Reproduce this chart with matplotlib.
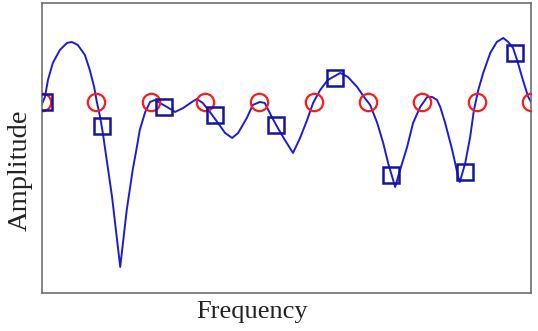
"""Amplitude vs frequency sketch: sampled curve with two marker sets."""

import matplotlib
matplotlib.use("Agg")
import matplotlib.pyplot as plt

# ---------------------------------------------------------------------------
# Data
# ---------------------------------------------------------------------------

curve_x = [0.00, 0.055, 0.11, 0.20, 0.33, 0.46, 0.55, 0.66, 0.79, 0.88,
           0.96, 1.01, 1.07, 1.12, 1.16, 1.29, 1.44, 1.56, 1.67, 1.75,
           1.80, 1.90, 1.99, 2.08, 2.17, 2.30, 2.45, 2.60, 2.76, 2.85,
           2.96, 3.09, 3.24, 3.37, 3.50, 3.61, 3.77, 3.88, 4.01, 4.10,
           4.23, 4.34, 4.47, 4.62, 4.75, 4.88, 4.99, 5.12, 5.26, 5.49,
           5.63, 5.80, 5.94, 6.04, 6.17, 6.28, 6.37, 6.50, 6.59, 6.72,
           6.83, 6.96, 7.09, 7.18, 7.27, 7.33, 7.42, 7.55, 7.66, 7.69,
           7.79, 7.88, 7.95, 8.03, 8.12, 8.25, 8.37, 8.49, 8.58, 8.67,
           8.76, 8.85, 8.95, 9.00]
curve_y = [-0.05, 0.125, 0.55, 0.975, 1.30, 1.475, 1.50, 1.425, 1.175, 0.80,
           0.375, 0.00, -0.375, -0.775, -1.15, -2.375, -4.125, -2.70, -1.70, -1.10,
           -0.70, -0.25, 0.00, 0.05, -0.025, -0.125, -0.25, -0.15, 0.00, 0.075,
           -0.025, -0.25, -0.525, -0.775, -0.90, -0.775, -0.40, -0.075, 0.00, -0.025,
           -0.375, -0.65, -0.95, -1.275, -0.90, -0.45, -0.025, 0.30, 0.55, 0.725,
           0.625, 0.375, 0.10, -0.075, -0.525, -1.025, -1.525, -2.125, -1.70, -1.125,
           -0.525, -0.125, 0.125, 0.125, 0.05, -0.125, -0.525, -1.20, -1.875, -2.00,
           -1.525, -0.875, -0.20, 0.30, 0.725, 1.225, 1.50, 1.60, 1.50, 1.35,
           0.975, 0.55, 0.125, 0.00]

circle_x = [0, 1, 2, 3, 4, 5, 6, 7, 8, 9]
circle_y = [0, 0, 0, 0, 0, 0, 0, 0, 0, 0]

square_x = [0.04, 1.10, 2.25, 3.18, 4.31, 5.39, 6.42, 7.79, 8.71]
square_y = [0.00, -0.60, -0.125, -0.325, -0.575, 0.60, -1.825, -1.75, 1.225]

# ---------------------------------------------------------------------------
# Plot
# ---------------------------------------------------------------------------

fig = plt.figure(figsize=(5.38, 3.31), dpi=100)
ax = fig.add_axes([0.078, 0.115, 0.909, 0.876])

ax.plot(curve_x, curve_y, color="#1c1cd8", linewidth=1.4, zorder=2,
        solid_joinstyle="round")
ax.plot(circle_x, circle_y, linestyle="none", marker="o", markersize=12.5,
        markerfacecolor="none", markeredgecolor="#ff1a1a",
        markeredgewidth=1.6, zorder=3)
ax.plot(square_x, square_y, linestyle="none", marker="s", markersize=11,
        markerfacecolor="none", markeredgecolor="#1414a0",
        markeredgewidth=1.8, zorder=4)

ax.set_xlim(0, 9)
ax.set_ylim(-4.775, 2.475)
ax.set_xticks([])
ax.set_yticks([])
for sp in ax.spines.values():
    sp.set_color("#6e6e6e")
    sp.set_linewidth(1.2)

# axis titles sit off-centre in the reference, so place them by hand
fig.text(252 / 538, 1 - 318 / 331, "Frequency", family="Liberation Serif",
         fontsize=19, color="#222222", ha="center", va="baseline")
fig.text(20 / 538, 1 - 170 / 331, "Amplitude", family="Liberation Serif",
         fontsize=20.5, color="#222222", ha="center", va="center",
         rotation=90)

fig.savefig("out.png", dpi=100)
plt.close(fig)
